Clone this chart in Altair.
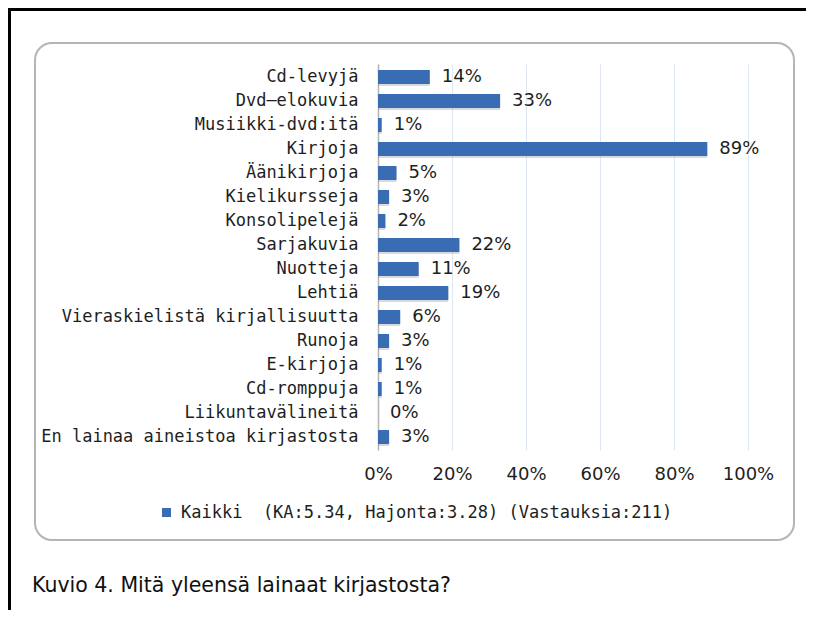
import altair as alt
import pandas as pd

categories = [
    "Cd-levyjä", "Dvd–elokuvia", "Musiikki-dvd:itä", "Kirjoja", "Äänikirjoja",
    "Kielikursseja", "Konsolipelejä", "Sarjakuvia", "Nuotteja", "Lehtiä",
    "Vieraskielistä kirjallisuutta", "Runoja", "E-kirjoja", "Cd-romppuja",
    "Liikuntavälineitä", "En lainaa aineistoa kirjastosta",
]
percent = [14, 33, 1, 89, 5, 3, 2, 22, 11, 19, 6, 3, 1, 1, 0, 3]
series_name = "Kaikki\u00a0 (KA:5.34, Hajonta:3.28) (Vastauksia:211)"
x_ticks = [0, 20, 40, 60, 80, 100]
caption = "Kuvio 4. Mitä yleensä lainaat kirjastosta?"

df = pd.DataFrame({"cat": categories, "p": percent, "series": series_name})
one = pd.DataFrame({"t": [caption]})

TXT = "#1e1e1e"

x_enc = alt.X(
    "p:Q",
    scale=alt.Scale(domain=[0, 100], nice=False),
    axis=alt.Axis(
        values=x_ticks, labelExpr="datum.value + '%'", title=None,
        domain=False, ticks=False, grid=True, gridColor="#dde6f1", gridWidth=1,
        labelFont="DejaVu Sans", labelFontSize=18, labelColor=TXT,
        labelPadding=15, labelFlush=False, labelOverlap=False,
    ),
)
y_enc = alt.Y(
    "cat:N", sort=categories,
    scale=alt.Scale(paddingInner=0, paddingOuter=0.04),
    axis=alt.Axis(
        title=None, ticks=False, grid=False, domain=True, domainColor="#b3b3b3",
        domainWidth=1.5, labelFont="DejaVu Sans Mono", labelFontSize=17,
        labelColor=TXT, labelPadding=20, labelLimit=500,
    ),
)

base = alt.Chart(df)

frame_top = alt.Chart(one).mark_rule(color="#000000", strokeWidth=3).encode(
    x=alt.value(-370), x2=alt.value(440), y=alt.value(-54.5)
)
frame_left = alt.Chart(one).mark_rule(color="#000000", strokeWidth=3).encode(
    x=alt.value(-368.5), y=alt.value(-56), y2=alt.value(560)
)
box = alt.Chart(one).mark_rect(
    filled=False, stroke="#b5b5b5", strokeWidth=2, cornerRadius=17
).encode(
    x=alt.value(-343), x2=alt.value(416), y=alt.value(-21), y2=alt.value(476)
)

shadow = base.mark_bar(size=14, color="#8c96a3", opacity=0.35, yOffset=2, x2Offset=1.5).encode(
    x=x_enc, y=y_enc
)
bars = base.mark_bar(size=14).encode(
    x=x_enc, y=y_enc,
    color=alt.Color(
        "series:N", scale=alt.Scale(range=["#3a6cb4"]),
        legend=alt.Legend(
            title=None, orient="none", legendX=-220, legendY=440, padding=0,
            symbolType="square", symbolSize=81, symbolStrokeWidth=0,
            labelFont="DejaVu Sans Mono", labelFontSize=17, labelColor=TXT,
            labelOffset=6, labelLimit=800,
        ),
    ),
)
labels = base.mark_text(
    align="left", baseline="middle", dx=12, font="DejaVu Sans", fontSize=18, color=TXT
).transform_calculate(lab="datum.p + '%'").encode(x=x_enc, y=y_enc, text="lab:N")

cap = alt.Chart(one).mark_text(
    align="left", baseline="alphabetic", font="DejaVu Sans", fontSize=20.5, color="#111111"
).encode(x=alt.value(-346), y=alt.value(528), text="t:N")

chart = alt.layer(frame_top, frame_left, box, shadow, bars, labels, cap).properties(
    width=370, height=386,
    autosize=alt.AutoSizeParams(type="none"),
    padding={"left": 370, "top": 56, "right": 58, "bottom": 160},
    background="#ffffff",
).configure_view(stroke=None)

chart.save("out.html", embed_options={"renderer": "svg", "actions": False})
